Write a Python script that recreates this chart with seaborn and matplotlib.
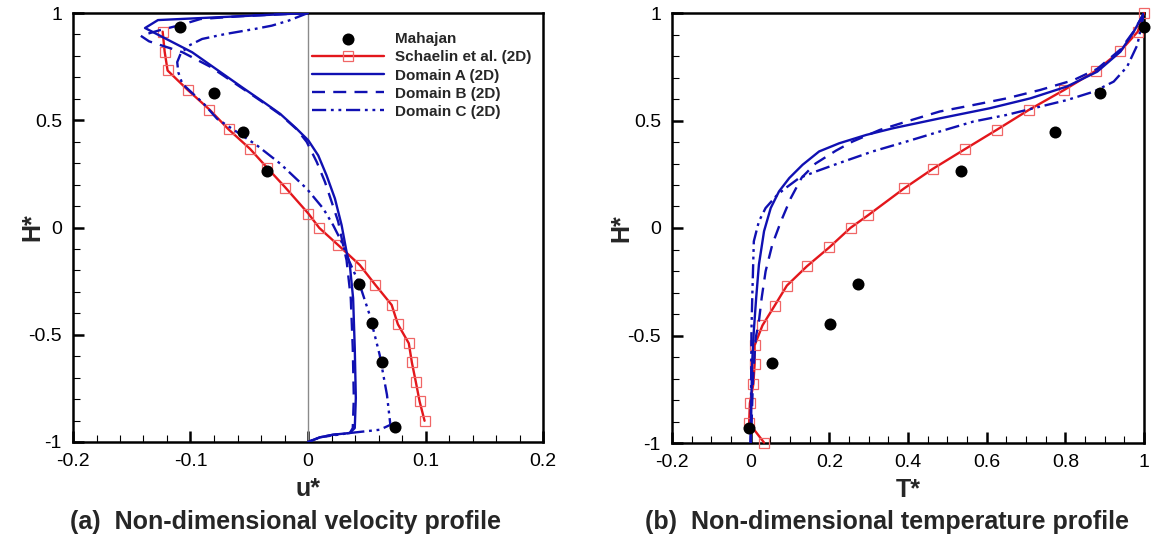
import numpy as np
import pandas as pd
import matplotlib
matplotlib.use("Agg")
import matplotlib.pyplot as plt
from matplotlib.ticker import MultipleLocator, FuncFormatter
import seaborn as sns

# ---------------- data ----------------
# Mahajan (experiment)
mah_h = [0.935, 0.627, 0.446, 0.263, -0.262, -0.447, -0.628, -0.930]
mah_u = [-0.109, -0.080, -0.0555, -0.035, 0.0432, 0.0545, 0.063, 0.0737]
mah_t = [1.0, 0.889, 0.773, 0.536, 0.274, 0.201, 0.054, -0.004]

# Schaelin et al. (2D) - velocity
sch_u_h = [0.913, 0.820, 0.732, 0.642, 0.550, 0.457, 0.367, 0.278, 0.186, 0.065, -0.002,
           -0.082, -0.175, -0.268, -0.361, -0.451, -0.540, -0.629, -0.721, -0.811, -0.901]
sch_u = [-0.1237, -0.122, -0.1195, -0.1025, -0.0839, -0.0675, -0.0494, -0.0347, -0.0192, 0.0003, 0.0096,
         0.0257, 0.0441, 0.0574, 0.0712, 0.0765, 0.0858, 0.0884, 0.0918, 0.095, 0.0992]
# Schaelin et al. (2D) - temperature
sch_t_h = [1.0, 0.913, 0.823, 0.732, 0.642, 0.549, 0.456, 0.367, 0.275, 0.184, 0.060, 0.001,
           -0.090, -0.178, -0.268, -0.361, -0.453, -0.546, -0.634, -0.724, -0.815, -0.908, -0.998]
sch_t = [1.0, 0.984, 0.940, 0.878, 0.797, 0.707, 0.625, 0.545, 0.463, 0.390, 0.299, 0.254,
         0.200, 0.143, 0.092, 0.061, 0.030, 0.010, 0.010, 0.007, -0.002, -0.004, 0.034]

# Domain A (2D)
dA_u_h = [1.0, 0.967, 0.930, 0.817, 0.654, 0.585, 0.530, 0.460, 0.406, 0.336, 0.243, 0.135, 0.011,
          -0.113, -0.175, -0.330, -0.563, -0.795, -0.935, -0.958, -0.966, -0.978, -1.0]
dA_u = [0.0, -0.1277, -0.1387, -0.0986, -0.0562, -0.0379, -0.0237, -0.0096, 0.0003, 0.0087, 0.0158,
        0.0229, 0.0286, 0.0328, 0.0356, 0.0384, 0.0398, 0.0407, 0.0398, 0.0356, 0.0214, 0.0102, 0.0]
dA_t_h = [1.0, 0.913, 0.820, 0.727, 0.658, 0.603, 0.557, 0.510, 0.464, 0.433, 0.394, 0.356, 0.294,
          0.232, 0.170, 0.093, -0.015, -0.170, -0.325, -0.479, -0.619, -0.774, -1.0]
dA_t = [1.0, 0.974, 0.940, 0.881, 0.804, 0.711, 0.608, 0.481, 0.362, 0.294, 0.225, 0.174, 0.132,
        0.098, 0.072, 0.051, 0.034, 0.021, 0.014, 0.008, 0.004, 0.002, 0.0]

# Domain B (2D)
dB_u_h = [1.0, 0.985, 0.972, 0.944, 0.921, 0.894, 0.868, 0.817, 0.749, 0.650, 0.582, 0.527,
          0.458, 0.399, 0.306, 0.213, 0.120, 0.027, -0.082, -0.152, -0.330, -0.563, -0.795, -0.935,
          -0.958, -0.966, -0.978, -1.0]
dB_u = [0.0, -0.0576, -0.0915, -0.1085, -0.1254, -0.1424, -0.1353, -0.1068, -0.083, -0.0562,
        -0.0379, -0.0237, -0.0096, -0.0011, 0.0074, 0.0144, 0.0201, 0.0257, 0.0299, 0.0328, 0.0364,
        0.0381, 0.039, 0.0381, 0.0356, 0.0214, 0.0102, 0.0]
dB_t_h = [1.0, 0.915, 0.830, 0.740, 0.688, 0.642, 0.603, 0.572, 0.542, 0.495, 0.456, 0.402, 0.360,
          0.300, 0.235, 0.139, 0.031, -0.077, -0.201, -0.325, -0.433, -0.510, -0.696, -0.928, -1.0]
dB_t = [1.0, 0.974, 0.940, 0.881, 0.821, 0.736, 0.651, 0.566, 0.481, 0.396, 0.328, 0.259, 0.217,
        0.165, 0.130, 0.102, 0.077, 0.055, 0.038, 0.028, 0.021, 0.013, 0.006, 0.002, 0.0]

# Domain C (2D)
dC_u_h = [1.0, 0.964, 0.941, 0.926, 0.902, 0.879, 0.848, 0.809, 0.771, 0.724, 0.670, 0.577, 0.507,
          0.445, 0.383, 0.298, 0.181, 0.088, 0.011, -0.067, -0.129, -0.268, -0.408, -0.594, -0.780,
          -0.920, -0.943, -0.958, -0.978, -1.0]
dC_u = [0.0, -0.0167, -0.0308, -0.0449, -0.0703, -0.0901, -0.1014, -0.1085, -0.1113, -0.1104, -0.107,
        -0.0887, -0.0774, -0.0604, -0.0435, -0.0237, -0.0011, 0.013, 0.0214, 0.0286, 0.0328, 0.0441,
        0.0525, 0.061, 0.0672, 0.0701, 0.061, 0.0356, 0.0102, 0.0]
dC_t_h = [1.0, 0.851, 0.750, 0.681, 0.634, 0.595, 0.557, 0.526, 0.495, 0.449, 0.402, 0.356, 0.302,
          0.263, 0.232, 0.186, 0.155, 0.093, 0.031, -0.062, -0.325, -0.479, -0.79, -1.0]
dC_t = [1.0, 0.983, 0.957, 0.923, 0.872, 0.804, 0.719, 0.651, 0.566, 0.481, 0.396, 0.310, 0.225,
        0.166, 0.123, 0.089, 0.068, 0.038, 0.021, 0.008, 0.004, 0.002, 0.001, 0.0]

series_labels = ["Mahajan", "Schaelin et al. (2D)", "Domain A (2D)", "Domain B (2D)", "Domain C (2D)"]
captions = ["(a)  Non-dimensional velocity profile", "(b)  Non-dimensional temperature profile"]

# ---------------- style ----------------
sns.set_theme(style="white")
plt.rcParams["font.family"] = ["Liberation Sans", "DejaVu Sans"]
plt.rcParams["axes.unicode_minus"] = False

BLUE = "#1010b2"
RED = "#e3161b"
SQ_EDGE = "#f06666"
LW = 1.7
DASHED = (0, (5.5, 3.5))
DASHDOT2 = (0, (6, 2, 1.2, 2, 1.2, 2))

fig = plt.figure(figsize=(11.61, 5.39), dpi=100)
W, H = 1161, 539
ax1 = fig.add_axes([73 / W, 1 - 442 / H, 470 / W, 429 / H])
ax2 = fig.add_axes([672 / W, 1 - 443 / H, 472 / W, 430 / H])


def fmt(v, pos):
    if abs(v - round(v)) < 1e-9:
        return "%d" % round(v)
    return "%.1f" % v


def draw(ax, mx, sx, sh, ax_, ah, bx, bh, cx, ch):
    sns.lineplot(x=sx, y=sh, sort=False, estimator=None, ax=ax, color=RED, lw=LW,
                 marker="s", markersize=6.5, markerfacecolor="none",
                 markeredgecolor=SQ_EDGE, markeredgewidth=0.9, label=series_labels[1], zorder=3,
                 clip_on=False)
    sns.lineplot(x=ax_, y=ah, sort=False, estimator=None, ax=ax, color=BLUE, lw=LW,
                 linestyle="-", label=series_labels[2], zorder=4)
    sns.lineplot(x=bx, y=bh, sort=False, estimator=None, ax=ax, color=BLUE, lw=LW,
                 linestyle=DASHED, label=series_labels[3], zorder=4)
    sns.lineplot(x=cx, y=ch, sort=False, estimator=None, ax=ax, color=BLUE, lw=LW,
                 linestyle=DASHDOT2, label=series_labels[4], zorder=4)
    sns.scatterplot(x=mx, y=mah_h, ax=ax, color="black", s=75, edgecolor="black",
                    linewidth=0, label=series_labels[0], zorder=5, clip_on=False)
    ax.set_ylim(-1, 1)
    ax.yaxis.set_major_locator(MultipleLocator(0.5))
    ax.yaxis.set_minor_locator(MultipleLocator(0.1))
    ax.yaxis.set_major_formatter(FuncFormatter(fmt))
    ax.xaxis.set_major_formatter(FuncFormatter(fmt))
    ax.tick_params(which="both", direction="in", top=False, right=False, left=True, bottom=True,
                   labelsize=14, colors="black")
    ax.tick_params(which="major", length=8, width=1.8, pad=8)
    ax.tick_params(which="minor", length=5, width=0.8)
    for sp in ax.spines.values():
        sp.set_visible(True)
        sp.set_color("black")
        sp.set_linewidth(1.8)
    ax.set_ylabel("H*", fontsize=18, fontweight="bold", va="center")
    ax.grid(False)


draw(ax1, mah_u, sch_u, sch_u_h, dA_u, dA_u_h, dB_u, dB_u_h, dC_u, dC_u_h)
ax1.axvline(0, color="#8a8a8a", lw=1.0, zorder=1)
ax1.set_xlim(-0.2, 0.2)
ax1.xaxis.set_major_locator(MultipleLocator(0.1))
ax1.xaxis.set_minor_locator(MultipleLocator(0.02))
ax1.set_xlabel("u*", fontsize=18, fontweight="bold", labelpad=5)
ax1.yaxis.set_label_coords((32 - 73) / 470, 0.5)

draw(ax2, mah_t, sch_t, sch_t_h, dA_t, dA_t_h, dB_t, dB_t_h, dC_t, dC_t_h)
ax2.set_xlim(-0.2, 1.0)
ax2.xaxis.set_major_locator(MultipleLocator(0.2))
ax2.xaxis.set_minor_locator(MultipleLocator(0.05))
ax2.set_xlabel("T*", fontsize=18, fontweight="bold", labelpad=5)
ax2.yaxis.set_label_coords((621 - 672) / 472, 0.5)
ax2.get_legend().remove()

# legend (left panel)
handles, labels = ax1.get_legend_handles_labels()
order = [labels.index(l) for l in series_labels]
ax1.get_legend().remove()
ax1.legend([handles[i] for i in order], [labels[i] for i in order],
           loc="upper left", bbox_to_anchor=(0.508, 0.955), frameon=False,
           prop={"weight": "bold", "size": 11}, handlelength=4.7, handletextpad=0.75,
           labelspacing=0.27, borderpad=0, borderaxespad=0)

fig.text(286 / W, 1 - 522 / H, captions[0], ha="center", va="center",
         fontsize=18, fontweight="bold")
fig.text(887 / W, 1 - 522 / H, captions[1], ha="center", va="center",
         fontsize=18, fontweight="bold")

fig.savefig("out.png", dpi=100, facecolor="white")
